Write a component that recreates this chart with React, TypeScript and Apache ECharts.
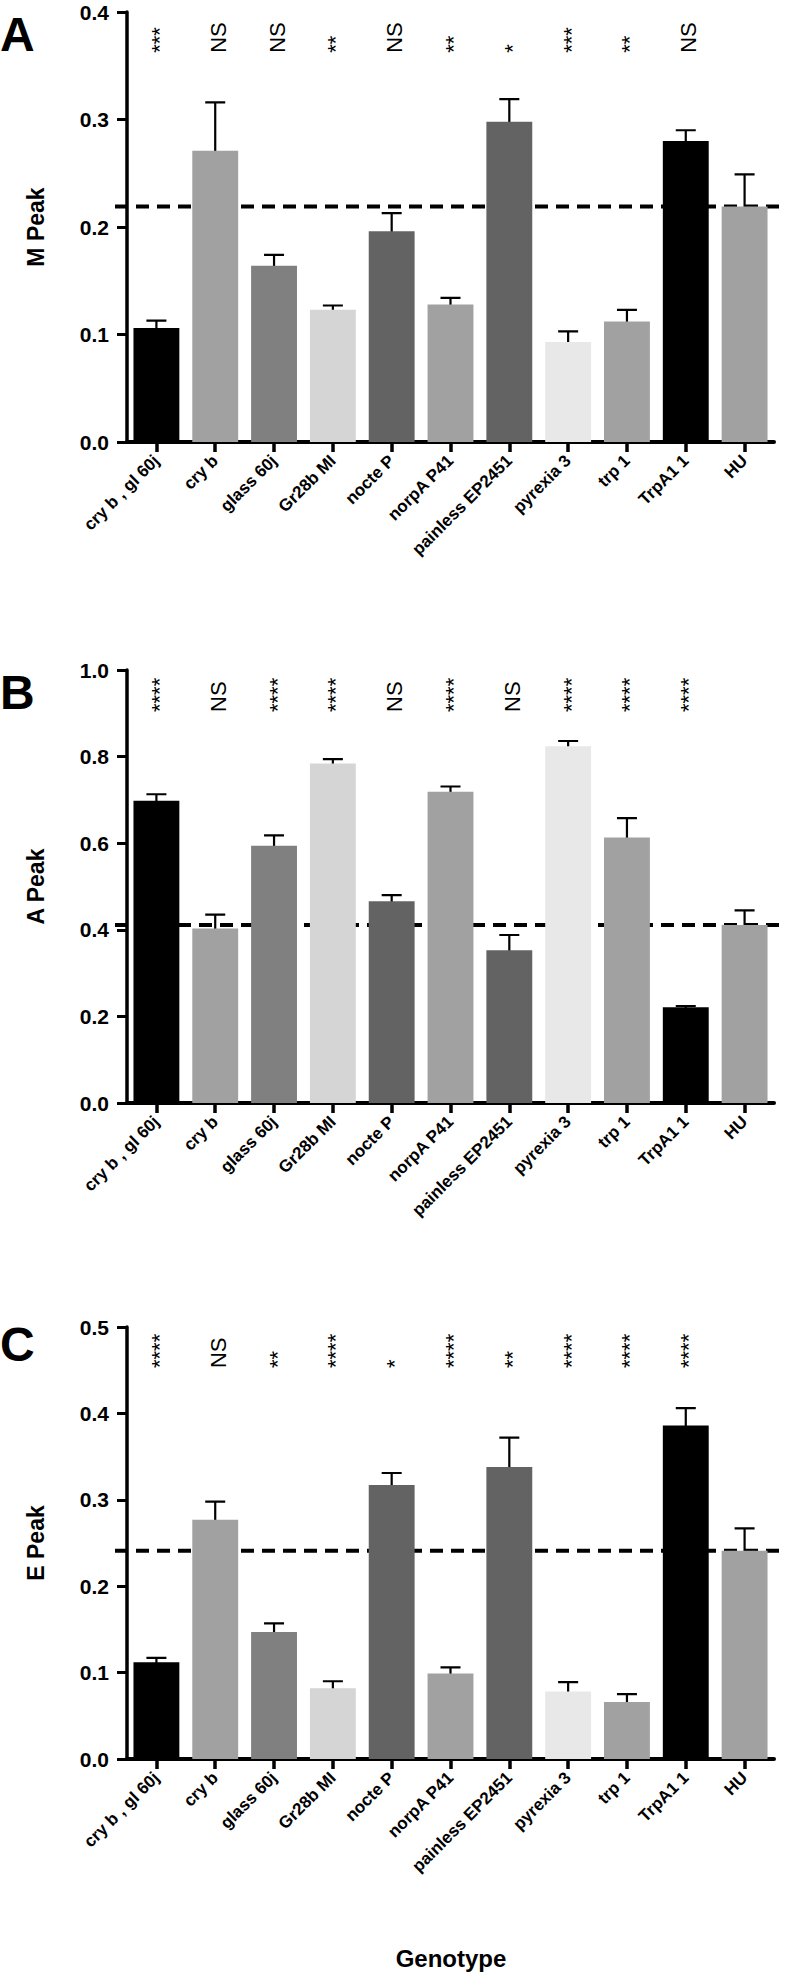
import React, { useEffect, useRef } from "react";
import * as echarts from "echarts";

// Genotype labels: [gene, allele, gene, allele ...]
const labelParts: string[][] = [
  ["cry", "b", ", gl", "60j"],
  ["cry", "b"],
  ["glass", "60j"],
  ["Gr28b", "MI"],
  ["nocte", "P"],
  ["norpA", "P41"],
  ["painless", "EP2451"],
  ["pyrexia", "3"],
  ["trp", "1"],
  ["TrpA1", "1"],
  ["HU"],
];
const categories = labelParts.map((p) => p.join(" "));

const barColors = [
  "#000000", "#a1a1a1", "#808080", "#d5d5d5", "#636363", "#a1a1a1",
  "#636363", "#e8e8e8", "#a1a1a1", "#000000", "#a1a1a1",
];

// Panel A: M Peak (mean, mean+SEM)
const mPeak = [0.106, 0.271, 0.164, 0.123, 0.196, 0.128, 0.298, 0.093, 0.112, 0.28, 0.219];
const mPeakUpper = [0.113, 0.316, 0.174, 0.127, 0.213, 0.134, 0.319, 0.103, 0.123, 0.29, 0.249];
const mSig = ["***", "NS", "NS", "**", "NS", "**", "*", "***", "**", "NS", ""];

// Panel B: A Peak
const aPeak = [0.698, 0.403, 0.594, 0.784, 0.466, 0.719, 0.353, 0.824, 0.613, 0.221, 0.411];
const aPeakUpper = [0.713, 0.435, 0.618, 0.794, 0.48, 0.731, 0.388, 0.836, 0.658, 0.224, 0.445];
const aSig = ["****", "NS", "****", "****", "NS", "****", "NS", "****", "****", "****", ""];

// Panel C: E Peak
const ePeak = [0.112, 0.277, 0.147, 0.082, 0.317, 0.099, 0.338, 0.078, 0.066, 0.386, 0.241];
const ePeakUpper = [0.117, 0.298, 0.157, 0.09, 0.331, 0.106, 0.372, 0.089, 0.075, 0.406, 0.267];
const eSig = ["****", "NS", "**", "****", "*", "****", "**", "****", "****", "****", ""];

const yMax = [0.4, 1.0, 0.5];
const yInterval = [0.1, 0.2, 0.1];
const yNames = ["M Peak", "A Peak", "E Peak"];
const panelLetters = ["A", "B", "C"];

const FONT = "Liberation Sans";

export default function App() {
  const ref = useRef<HTMLDivElement>(null);

  useEffect(() => {
    document.body.style.margin = "0";
    if (!ref.current) return;
    const chart = echarts.init(ref.current, undefined, { renderer: "svg" });

    const panels = [
      { values: mPeak, upper: mPeakUpper, sig: mSig, top: 12, height: 430, sigFrac: 0.905, letterTop: 10 },
      { values: aPeak, upper: aPeakUpper, sig: aSig, top: 670, height: 433, sigFrac: 0.903, letterTop: 668 },
      { values: ePeak, upper: ePeakUpper, sig: eSig, top: 1327, height: 432, sigFrac: 0.905, letterTop: 1320 },
    ];

    const grids: any[] = [];
    const xAxes: any[] = [];
    const yAxes: any[] = [];
    const series: any[] = [];
    const titles: any[] = [];

    panels.forEach((p, i) => {
      grids.push({ left: 127, top: p.top, width: 647, height: p.height, containLabel: false });
      xAxes.push({
        type: "category",
        gridIndex: i,
        data: categories,
        axisLine: { show: true, lineStyle: { color: "#000", width: 4 } },
        axisTick: { show: true, alignWithLabel: true, length: 10, lineStyle: { color: "#000", width: 3.5 } },
        axisLabel: {
          rotate: 45,
          margin: 16,
          interval: 0,
          color: "#000",
          fontFamily: FONT,
          fontWeight: "bold",
          fontSize: 17,
        },
      });
      yAxes.push({
        type: "value",
        gridIndex: i,
        min: 0,
        max: yMax[i],
        interval: yInterval[i],
        splitLine: { show: false },
        axisLine: { show: true, lineStyle: { color: "#000", width: 3.5 } },
        axisTick: { show: true, length: 10, lineStyle: { color: "#000", width: 3 } },
        axisLabel: {
          margin: 18,
          color: "#000",
          fontFamily: FONT,
          fontWeight: "bold",
          fontSize: 21,
          formatter: (v: number) => v.toFixed(1),
        },
        name: yNames[i],
        nameLocation: "middle",
        nameRotate: 90,
        nameGap: 80,
        nameTextStyle: { fontFamily: FONT, fontWeight: "bold", fontSize: 23, color: "#000" },
      });

      series.push({
        type: "bar",
        xAxisIndex: i,
        yAxisIndex: i,
        barCategoryGap: "22%",
        data: p.values.map((v, k) => ({ value: v, itemStyle: { color: barColors[k] } })),
      });
      // error bars (mean to mean+SEM with cap)
      series.push({
        type: "custom",
        xAxisIndex: i,
        yAxisIndex: i,
        data: p.values.map((v, k) => [k, v, p.upper[k]]),
        renderItem: (_params: any, api: any) => {
          const x = api.value(0);
          const p0 = api.coord([x, api.value(1)]);
          const p1 = api.coord([x, api.value(2)]);
          const hw = 10;
          return {
            type: "polyline",
            shape: {
              points: [
                [p1[0] - hw, p1[1]],
                [p1[0] + hw, p1[1]],
                [p1[0], p1[1]],
                [p0[0], p0[1] + 2],
              ],
            },
            style: { stroke: "#000", lineWidth: 2.2, fill: null },
          };
        },
      });
      // dashed reference line at the HU (control) mean
      const refV = p.values[p.values.length - 1];
      series.push({
        type: "custom",
        xAxisIndex: i,
        yAxisIndex: i,
        data: [[p.values.length - 1, refV]],
        renderItem: (params: any, api: any) => {
          const cs = params.coordSys;
          const yy = api.coord([api.value(0), api.value(1)])[1];
          return {
            type: "line",
            shape: { x1: cs.x - 12, y1: yy, x2: cs.x + cs.width + 8, y2: yy },
            style: { stroke: "#000", lineWidth: 4, lineDash: [13, 8] },
          };
        },
      });
      // significance marks
      const sigY = yMax[i] * p.sigFrac;
      series.push({
        type: "custom",
        xAxisIndex: i,
        yAxisIndex: i,
        data: p.sig.map((s, k) => [k, sigY]),
        renderItem: (params: any, api: any) => {
          const pt = api.coord([api.value(0), api.value(1)]);
          return {
            type: "text",
            x: pt[0] + 3,
            y: pt[1],
            rotation: Math.PI / 2,
            style: {
              text: p.sig[params.dataIndex],
              fontSize: 22,
              fill: "#000",
              align: "left",
              verticalAlign: "middle",
            },
          };
        },
      });

      titles.push({
        text: panelLetters[i],
        left: 0,
        top: p.letterTop,
        padding: 0,
        textStyle: { fontFamily: FONT, fontWeight: "bold", fontSize: 48, color: "#000" },
      });
    });
    titles.push({
      text: "Genotype",
      left: 451,
      textAlign: "center",
      top: 1946,
      padding: 0,
      textStyle: { fontFamily: FONT, fontWeight: "bold", fontSize: 24, color: "#000" },
    });

    chart.setOption({
      animation: false,
      backgroundColor: "#fff",
      title: titles,
      grid: grids,
      xAxis: xAxes,
      yAxis: yAxes,
      series,
    });

    return () => chart.dispose();
  }, []);

  return <div ref={ref} style={{ width: 796, height: 1985 }} />;
}
